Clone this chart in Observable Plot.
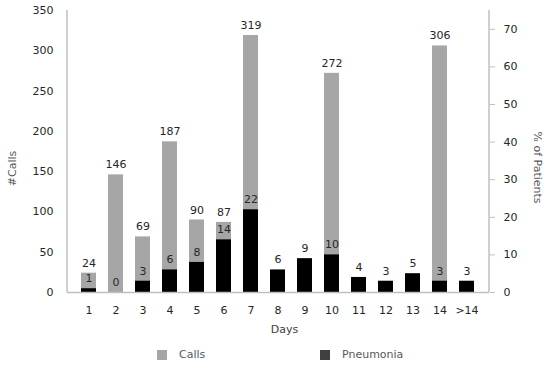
<!DOCTYPE html>
<html>
<head>
<meta charset="utf-8">
<script src="https://cdn.jsdelivr.net/npm/d3@7"></script>
<script src="https://cdn.jsdelivr.net/npm/@observablehq/plot@0.6"></script>
<style>
  body { margin: 0; background: #fff; font-family: "DejaVu Sans", sans-serif; }
  #legend { position: relative; height: 25px; font-size: 11px; color: #595959; }
  .item { position: absolute; top: 0; height: 25px; display: flex; align-items: center; }
  .sw { width: 10px; height: 10px; margin-right: 12px; }
</style>
</head>
<body>
<div id="chart"></div>
<div id="legend">
  <div class="item" style="left:157px"><span class="sw" style="background:#a6a6a6"></span>Calls</div>
  <div class="item" style="left:320px"><span class="sw" style="background:#404040"></span>Pneumonia</div>
</div>
<script>
const days = ["1","2","3","4","5","6","7","8","9","10","11","12","13","14",">14"];
const calls = [24,146,69,187,90,87,319,null,null,272,null,null,null,306,null];
const pneumonia = [1,0,3,6,8,14,22,6,9,10,4,3,5,3,3];
const leftTicks = [0,50,100,150,200,250,300,350];
const rightTicks = [0,10,20,30,40,50,60,70];

const leftMax = 350, rightMax = 75;
const k = leftMax / rightMax;

const data = days.map((d, i) => ({day: d, calls: calls[i], p: pneumonia[i]}));
const callsData = data.filter(d => d.calls != null);

// vertical axis lines at both edges of the plot frame
function axisLines(index, scales, values, dimensions) {
  const {width, marginLeft, marginRight} = dimensions;
  const g = d3.create("svg:g").attr("stroke", "#bfbfbf").attr("stroke-width", 1.5);
  const y1 = scales.y(0), y2 = scales.y(leftMax);
  g.append("line").attr("x1", marginLeft).attr("x2", marginLeft).attr("y1", y1).attr("y2", y2);
  g.append("line").attr("x1", width - marginRight).attr("x2", width - marginRight).attr("y1", y1).attr("y2", y2);
  return g.node();
}

const chart = Plot.plot({
  width: 550,
  height: 342,
  marginLeft: 67,
  marginRight: 61,
  marginTop: 10,
  marginBottom: 50,
  style: {fontFamily: "DejaVu Sans, sans-serif", fontSize: "11px", color: "#262626", background: "#fff"},
  x: {domain: days, padding: 0.43, label: null},
  y: {domain: [0, leftMax], label: null},
  marks: [
    Plot.barY(callsData, {x: "day", y: "calls", fill: "#a6a6a6"}),
    Plot.barY(data, {x: "day", y: d => d.p * k, fill: "#000"}),
    Plot.text(callsData, {x: "day", y: "calls", text: d => String(d.calls), dy: -10, fill: "#262626"}),
    Plot.text(data, {x: "day", y: d => d.p * k, text: d => String(d.p), dy: -10, fill: "#262626"}),
    Plot.ruleY([0], {stroke: "#bfbfbf", strokeWidth: 1.5}),
    axisLines,
    Plot.axisY({anchor: "left", ticks: leftTicks, tickSize: 0, tickPadding: 14, stroke: "#bfbfbf", fill: "#262626", label: null}),
    Plot.axisY({anchor: "right", ticks: rightTicks.map(v => v * k), tickFormat: d => String(Math.round(d / k)), tickSize: 5, tickPadding: 9, stroke: "#bfbfbf", fill: "#262626", label: null}),
    Plot.axisX({tickSize: 0, tickPadding: 14, fill: "#262626", label: null}),
    Plot.text(["Days"], {frameAnchor: "bottom", dy: 40, dx: 6, fill: "#404040"}),
    Plot.text(["#Calls"], {frameAnchor: "left", textAnchor: "middle", dx: -55, dy: 17, rotate: -90, fill: "#595959"}),
    Plot.text(["% of Patients"], {frameAnchor: "right", textAnchor: "middle", dx: 48, dy: 16, rotate: 90, fill: "#595959"})
  ]
});
document.getElementById("chart").appendChild(chart);
</script>
</body>
</html>
